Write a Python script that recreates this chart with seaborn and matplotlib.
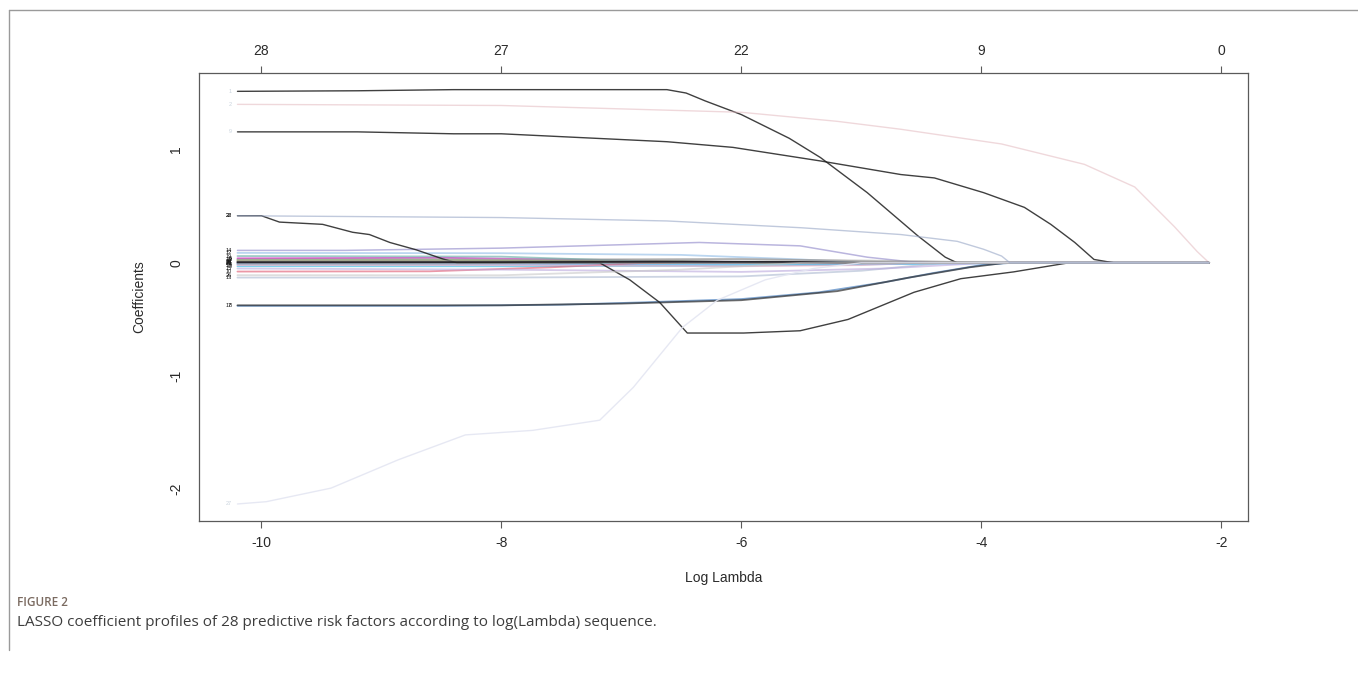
import matplotlib
matplotlib.use("Agg")
import matplotlib.pyplot as plt
from matplotlib.lines import Line2D
import pandas as pd
import seaborn as sns

# ---------------------------------------------------------------------------
# Axis ticks: log(lambda) positions and the number of non-zero coefficients
# ---------------------------------------------------------------------------
log_lambda_ticks = [-10, -8, -6, -4, -2]
nonzero_counts = [28, 27, 22, 9, 0]
coef_ticks = [-2, -1, 0, 1]

# ---------------------------------------------------------------------------
# Coefficient paths (knots along log(lambda)), one pair of lists per factor
# ---------------------------------------------------------------------------
loglam_v01 = [-10.2, -9.2, -8.4, -7.5, -6.62, -6.46, -6.3, -6.0, -5.6, -5.34, -4.95, -4.53, -4.3, -4.2, -2.1]
coef_v01 = [1.515, 1.52, 1.53, 1.53, 1.53, 1.50, 1.43, 1.31, 1.10, 0.93, 0.62, 0.24, 0.05, 0.0, 0.0]

loglam_v02 = [-10.2, -8.0, -6.0, -5.2, -4.67, -3.83, -3.14, -2.72, -2.39, -2.2, -2.1]
coef_v02 = [1.40, 1.39, 1.33, 1.25, 1.18, 1.05, 0.87, 0.67, 0.32, 0.10, 0.0]

loglam_v03 = [-10.2, -8.5, -7.6, -7.0, -2.1]
coef_v03 = [0.03, 0.03, 0.015, 0.0, 0.0]

loglam_v04 = [-10.2, -8.0, -6.0, -4.5, -4.0, -3.7, -2.1]
coef_v04 = [-0.012, -0.012, -0.01, -0.008, -0.005, 0.0, 0.0]

loglam_v05 = [-10.2, -8.0, -6.0, -5.0, -4.2, -2.1]
coef_v05 = [-0.03, -0.03, -0.025, -0.015, 0.0, 0.0]

loglam_v06 = [-10.2, -8.5, -7.0, -6.2, -2.1]
coef_v06 = [0.04, 0.045, 0.02, 0.0, 0.0]

loglam_v07 = [-10.2, -8.0, -7.2, -6.8, -2.1]
coef_v07 = [0.02, 0.02, 0.015, 0.0, 0.0]

loglam_v08 = [-10.2, -8.5, -7.5, -6.85, -6.0, -5.35, -4.8, -4.4, -4.0, -3.75, -2.1]
coef_v08 = [-0.38, -0.38, -0.37, -0.35, -0.32, -0.26, -0.17, -0.09, -0.02, 0.0, 0.0]

loglam_v09 = [-10.2, -9.2, -8.4, -8.0, -6.62, -6.07, -5.34, -4.67, -4.39, -3.98, -3.64, -3.42, -3.22, -3.06, -2.95, -2.89, -2.1]
coef_v09 = [1.157, 1.157, 1.14, 1.14, 1.07, 1.02, 0.90, 0.78, 0.75, 0.62, 0.49, 0.34, 0.18, 0.03, 0.01, 0.0, 0.0]

loglam_v10 = [-10.2, -8.6, -7.6, -6.8, -2.1]
coef_v10 = [-0.077, -0.075, -0.04, 0.0, 0.0]

loglam_v11 = [-10.2, -8.0, -7.0, -6.5, -5.7, -2.1]
coef_v11 = [0.01, 0.012, 0.02, 0.015, 0.0, 0.0]

loglam_v12 = [-10.2, -8.0, -6.5, -5.5, -5.0, -2.1]
coef_v12 = [0.088, 0.085, 0.07, 0.03, 0.0, 0.0]

loglam_v13 = [-10.2, -8.0, -6.0, -5.0, -4.3, -2.1]
coef_v13 = [-0.13, -0.13, -0.12, -0.07, 0.0, 0.0]

loglam_v14 = [-10.2, -9.3, -8.0, -7.0, -6.35, -5.51, -4.95, -4.6, -4.3, -2.1]
coef_v14 = [0.11, 0.11, 0.13, 0.16, 0.18, 0.15, 0.05, 0.01, 0.0, 0.0]

loglam_v15 = [-10.2, -8.0, -6.0, -4.8, -3.95, -2.1]
coef_v15 = [-0.05, -0.06, -0.08, -0.05, 0.0, 0.0]

loglam_v16 = [-10.2, -8.0, -6.0, -5.2, -4.6, -2.1]
coef_v16 = [0.027, 0.03, 0.035, 0.02, 0.0, 0.0]

loglam_v17 = [-10.2, -8.0, -7.0, -6.0, -5.2, -4.6, -4.1, -3.8, -2.1]
coef_v17 = [-0.375, -0.375, -0.36, -0.33, -0.25, -0.13, -0.04, 0.0, 0.0]

loglam_v18 = [-10.2, -8.0, -6.0, -5.0, -4.5, -2.1]
coef_v18 = [-0.02, -0.02, -0.03, -0.02, 0.0, 0.0]

loglam_v19 = [-10.2, -8.0, -7.0, -6.5, -2.1]
coef_v19 = [0.06, 0.055, 0.02, 0.0, 0.0]

loglam_v20 = [-10.2, -8.0, -6.5, -5.8, -5.3, -2.1]
coef_v20 = [0.004, 0.005, 0.01, 0.008, 0.0, 0.0]

loglam_v21 = [-10.2, -8.0, -6.0, -5.5, -5.2, -2.1]
coef_v21 = [-0.003, 0.002, 0.005, 0.006, 0.0, 0.0]

loglam_v22 = [-10.2, -10.0, -9.85, -9.49, -9.24, -9.10, -8.93, -8.71, -8.49, -8.37, -7.18, -6.93,
              -6.68, -6.45, -5.98, -5.51, -5.11, -4.56, -4.17, -3.73, -3.33, -3.27, -2.1]
coef_v22 = [0.416, 0.416, 0.36, 0.34, 0.27, 0.25, 0.18, 0.115, 0.035, 0.0, 0.0, -0.15,
            -0.35, -0.62, -0.62, -0.60, -0.50, -0.26, -0.14, -0.08, -0.01, 0.0, 0.0]

loglam_v23 = [-10.2, -8.0, -6.0, -4.5, -3.9, -2.1]
coef_v23 = [0.015, 0.02, 0.03, 0.015, 0.0, 0.0]

loglam_v24 = [-10.2, -8.5, -7.5, -2.1]
coef_v24 = [-0.01, -0.008, 0.0, 0.0]

loglam_v25 = [-10.2, -8.0, -6.5, -5.5, -5.0, -2.1]
coef_v25 = [0.006, 0.006, 0.01, 0.008, 0.0, 0.0]

loglam_v26 = [-10.2, -8.0, -6.5, -5.5, -2.1]
coef_v26 = [-0.109, -0.11, -0.06, 0.0, 0.0]

loglam_v27 = [-10.2, -9.96, -9.42, -8.86, -8.30, -7.74, -7.18, -6.90, -6.49, -6.2, -5.8, -5.4, -5.0, -2.1]
coef_v27 = [-2.13, -2.11, -1.99, -1.74, -1.52, -1.48, -1.39, -1.10, -0.57, -0.33, -0.15, -0.05, 0.0, 0.0]

loglam_v28 = [-10.2, -8.0, -6.62, -5.5, -4.67, -4.2, -3.98, -3.83, -3.76, -2.1]
coef_v28 = [0.416, 0.40, 0.37, 0.31, 0.25, 0.19, 0.12, 0.06, 0.0, 0.0]

paths = [
    (1, loglam_v01, coef_v01), (2, loglam_v02, coef_v02), (3, loglam_v03, coef_v03),
    (4, loglam_v04, coef_v04), (5, loglam_v05, coef_v05), (6, loglam_v06, coef_v06),
    (7, loglam_v07, coef_v07), (8, loglam_v08, coef_v08), (9, loglam_v09, coef_v09),
    (10, loglam_v10, coef_v10), (11, loglam_v11, coef_v11), (12, loglam_v12, coef_v12),
    (13, loglam_v13, coef_v13), (14, loglam_v14, coef_v14), (15, loglam_v15, coef_v15),
    (16, loglam_v16, coef_v16), (17, loglam_v17, coef_v17), (18, loglam_v18, coef_v18),
    (19, loglam_v19, coef_v19), (20, loglam_v20, coef_v20), (21, loglam_v21, coef_v21),
    (22, loglam_v22, coef_v22), (23, loglam_v23, coef_v23), (24, loglam_v24, coef_v24),
    (25, loglam_v25, coef_v25), (26, loglam_v26, coef_v26), (27, loglam_v27, coef_v27),
    (28, loglam_v28, coef_v28),
]

# ---------------------------------------------------------------------------
# Line styling per factor
# ---------------------------------------------------------------------------
line_colors = {
    1: "#1e1e1e", 2: "#E3B9BF", 3: "#61D04F", 4: "#2297E6", 5: "#28B8E5",
    6: "#CD0BBC", 7: "#B7A52A", 8: "#2F6DB5", 9: "#1e1e1e", 10: "#DF536B",
    11: "#4B6B2F", 12: "#8FBBE6", 13: "#AAB8D0", 14: "#8C84C8", 15: "#B9A7DC",
    16: "#9E9E9E", 17: "#2E2E2E", 18: "#F0A8C0", 19: "#5FA8A0", 20: "#6A3D9A",
    21: "#1F2A5A", 22: "#1e1e1e", 23: "#9E9E9E", 24: "#B0B0B0", 25: "#1e1e1e",
    26: "#C8C8C8", 27: "#E4E6F2", 28: "#97A6C6",
}
line_alpha = {k: 0.6 for k in line_colors}
line_alpha.update({1: 0.85, 9: 0.85, 22: 0.85, 25: 0.85, 17: 0.7, 2: 0.55, 27: 0.9})
line_width = {k: 1.3 for k in line_colors}
line_width.update({1: 1.0, 2: 1.0, 9: 1.0, 22: 1.0, 27: 1.0, 28: 1.0, 14: 1.1})
pale_labels = {1, 2, 9, 27}

sns.set_style("white")
plt.rcParams["font.family"] = ["Liberation Sans", "DejaVu Sans"]
plt.rcParams["axes.unicode_minus"] = False

W, H = 1358, 673
fig = plt.figure(figsize=(W / 100, H / 100), dpi=100)
ax = fig.add_axes([198.6 / W, 1 - 520.6 / H, (1248 - 198.6) / W, (520.6 - 73) / H])

frames = []
for var, xs, ys in paths:
    frames.append(pd.DataFrame({"factor": var, "log_lambda": xs, "coef": ys}))
coef_df = pd.concat(frames, ignore_index=True)

for var, grp in coef_df.groupby("factor", sort=True):
    sns.lineplot(data=grp, x="log_lambda", y="coef", sort=False, estimator=None,
                 color=line_colors[var], alpha=line_alpha[var], linewidth=line_width[var],
                 ax=ax, legend=False)
    x0 = grp["log_lambda"].iloc[0]
    y0 = grp["coef"].iloc[0]
    ax.annotate(str(var), (x0, y0), xytext=(-4, 0), textcoords="offset points",
                ha="right", va="center", fontsize=4.0,
                color="#C9D3DD" if var in pale_labels else "#1a1a1a")

ax.set_xlim(-10.524, -1.776)
ax.set_ylim(-2.277, 1.677)
ax.set_xticks(log_lambda_ticks)
ax.set_xticklabels([str(t) for t in log_lambda_ticks])
ax.set_yticks(coef_ticks)
ax.set_yticklabels([str(t) for t in coef_ticks], rotation=90, va="center")

for sp in ax.spines.values():
    sp.set_visible(True)
    sp.set_color("#5a5a5a")
    sp.set_linewidth(0.9)

tick_kw = dict(direction="out", length=5, width=0.8, color="#5a5a5a",
               labelsize=10, labelcolor="#2a2a2a", pad=6)
ax.tick_params(axis="both", **tick_kw)

ax.set_xlabel("Log Lambda", fontsize=10, color="#2a2a2a")
ax.set_ylabel("Coefficients", fontsize=10, color="#2a2a2a")
ax.xaxis.set_label_coords(0.5, -50 / 447.6)
ax.yaxis.set_label_coords(-52 / 1049.4, 0.5)

top = ax.twiny()
top.set_xlim(ax.get_xlim())
top.set_xticks(log_lambda_ticks)
top.set_xticklabels([str(n) for n in nonzero_counts])
top.tick_params(axis="x", **tick_kw)
for sp in top.spines.values():
    sp.set_visible(False)

# caption block and panel border
fig.add_artist(Line2D([9 / W, 9 / W], [1 - 10 / H, 1 - 650 / H], transform=fig.transFigure,
                      color="#9a9a9a", linewidth=1.0))
fig.add_artist(Line2D([9 / W, 1.0], [1 - 10 / H, 1 - 10 / H], transform=fig.transFigure,
                      color="#9a9a9a", linewidth=1.0))
fig.text(17 / W, 1 - 602 / H, "FIGURE 2", fontsize=8.5, color="#7a6a60",
         fontfamily="Open Sans", fontweight="semibold", va="center", ha="left")
fig.text(17 / W, 1 - 622 / H,
         "LASSO coefficient profiles of 28 predictive risk factors according to log(Lambda) sequence.",
         fontsize=11, color="#3d3d3d", fontfamily="Open Sans", va="center", ha="left")

fig.savefig("out.png", dpi=100)
